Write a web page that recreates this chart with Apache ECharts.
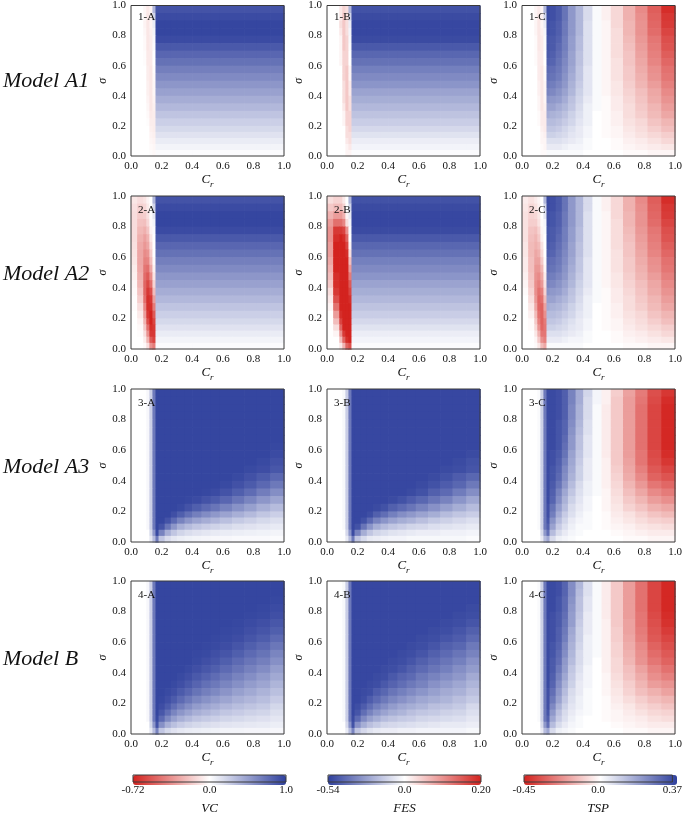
<!DOCTYPE html>
<html><head><meta charset="utf-8">
<script src="https://cdn.jsdelivr.net/npm/echarts@6/dist/echarts.min.js"></script>
<style>html,body{margin:0;padding:0;background:#fff}#chart{width:685px;height:816px}</style>
</head><body><div id="chart"></div>
<script>
// ---- grid of the heat maps (cell edges along C_r and sigma) ----
const crEdges = [0, 0.04, 0.08, 0.10, 0.12, 0.14, 0.16, 0.18, 0.22, 0.26, 0.30, 0.35, 0.40, 0.46, 0.52, 0.58, 0.66, 0.74, 0.82, 0.91, 1.0];
const sigmaEdges = [0, 0.04, 0.08, 0.12, 0.16, 0.20, 0.25, 0.30, 0.35, 0.40, 0.45, 0.50, 0.55, 0.60, 0.65, 0.70, 0.75, 0.80, 0.85, 0.90, 0.95, 1.0];
const axisTicks = [0, 0.2, 0.4, 0.6, 0.8, 1.0];
const rowLabels = ['Model A1', 'Model A2', 'Model A3', 'Model B'];
const colLetters = ['A', 'B', 'C'];
const measureNames = ['VC', 'FES', 'TSP'];
const measureMin = [-0.72, -0.54, -0.45];
const measureMax = [1.0, 0.20, 0.37];
const colorbarTicks = [['-0.72', '0.0', '1.0'], ['-0.54', '0.0', '0.20'], ['-0.45', '0.0', '0.37']];

// ---- values (in hundredths), rows from sigma = 1 (top) down to sigma = 0, columns along crEdges ----
const vcA1 = [
[0,0,-3,-7,-4,38,90,90,90,90,90,90,90,90,90,90,90,90,90,90],
[0,0,-3,-8,-5,22,94,94,94,94,94,94,94,94,94,94,94,94,94,94],
[0,0,-4,-8,-4,10,97,97,97,97,97,97,97,97,97,97,97,97,97,97],
[0,0,-3,-8,-5,6,97,97,97,97,97,97,97,97,97,97,97,97,97,97],
[0,0,-2,-8,-6,3,94,94,94,94,94,94,94,94,94,94,94,94,94,94],
[0,0,-2,-8,-6,2,87,87,87,87,87,87,87,87,87,87,87,87,87,87],
[0,0,-1,-7,-7,0,80,80,80,80,80,80,80,80,80,80,80,80,80,80],
[0,0,-1,-7,-7,0,74,74,74,74,74,74,74,74,74,74,74,74,74,74],
[0,0,0,-6,-8,-1,67,67,67,67,67,67,67,67,67,67,67,67,67,67],
[0,0,0,-6,-8,-2,61,61,61,61,61,61,61,61,61,61,61,61,61,61],
[0,0,0,-5,-8,-3,55,55,55,55,55,55,55,55,55,55,55,55,55,55],
[0,0,0,-5,-8,-3,49,49,49,49,49,49,49,49,49,49,49,49,49,49],
[0,0,0,-4,-8,-4,43,43,43,43,43,43,43,43,43,43,43,43,43,43],
[0,0,0,-3,-8,-5,37,37,37,37,37,37,37,37,37,37,37,37,37,37],
[0,0,0,-2,-7,-6,31,31,31,31,31,31,31,31,31,31,31,31,31,31],
[0,0,0,-1,-6,-6,25,25,25,25,25,25,25,25,25,25,25,25,25,25],
[0,0,0,0,-5,-6,20,20,20,20,20,20,20,20,20,20,20,20,20,20],
[0,0,0,0,-4,-5,15,15,15,15,15,15,15,15,15,15,15,15,15,15],
[0,0,0,0,-3,-4,10,10,10,10,10,10,10,10,10,10,10,10,10,10],
[0,0,0,0,-2,-3,6,6,6,6,6,6,6,6,6,6,6,6,6,6],
[0,0,0,0,-1,-2,2,2,2,2,2,2,2,2,2,2,2,2,2,2]
];
const fesA1 = [
[0,0,2,4,3,-21,-49,-49,-49,-49,-49,-49,-49,-49,-49,-49,-49,-49,-49,-49],
[0,0,2,5,3,-12,-51,-51,-51,-51,-51,-51,-51,-51,-51,-51,-51,-51,-51,-51],
[0,0,3,5,3,-5,-52,-52,-52,-52,-52,-52,-52,-52,-52,-52,-52,-52,-52,-52],
[0,0,2,5,3,-3,-52,-52,-52,-52,-52,-52,-52,-52,-52,-52,-52,-52,-52,-52],
[0,0,1,5,4,-2,-51,-51,-51,-51,-51,-51,-51,-51,-51,-51,-51,-51,-51,-51],
[0,0,1,5,4,-1,-47,-47,-47,-47,-47,-47,-47,-47,-47,-47,-47,-47,-47,-47],
[0,0,1,4,4,0,-43,-43,-43,-43,-43,-43,-43,-43,-43,-43,-43,-43,-43,-43],
[0,0,1,4,4,0,-40,-40,-40,-40,-40,-40,-40,-40,-40,-40,-40,-40,-40,-40],
[0,0,0,4,5,1,-36,-36,-36,-36,-36,-36,-36,-36,-36,-36,-36,-36,-36,-36],
[0,0,0,4,5,1,-33,-33,-33,-33,-33,-33,-33,-33,-33,-33,-33,-33,-33,-33],
[0,0,0,3,5,2,-30,-30,-30,-30,-30,-30,-30,-30,-30,-30,-30,-30,-30,-30],
[0,0,0,3,5,2,-26,-26,-26,-26,-26,-26,-26,-26,-26,-26,-26,-26,-26,-26],
[0,0,0,3,5,3,-23,-23,-23,-23,-23,-23,-23,-23,-23,-23,-23,-23,-23,-23],
[0,0,0,2,5,3,-20,-20,-20,-20,-20,-20,-20,-20,-20,-20,-20,-20,-20,-20],
[0,0,0,1,4,4,-17,-17,-17,-17,-17,-17,-17,-17,-17,-17,-17,-17,-17,-17],
[0,0,0,1,4,4,-14,-14,-14,-14,-14,-14,-14,-14,-14,-14,-14,-14,-14,-14],
[0,0,0,0,3,4,-11,-11,-11,-11,-11,-11,-11,-11,-11,-11,-11,-11,-11,-11],
[0,0,0,0,3,3,-8,-8,-8,-8,-8,-8,-8,-8,-8,-8,-8,-8,-8,-8],
[0,0,0,0,2,3,-5,-5,-5,-5,-5,-5,-5,-5,-5,-5,-5,-5,-5,-5],
[0,0,0,0,1,2,-3,-3,-3,-3,-3,-3,-3,-3,-3,-3,-3,-3,-3,-3],
[0,0,0,0,1,1,-1,-1,-1,-1,-1,-1,-1,-1,-1,-1,-1,-1,-1,-1]
];
const tspA1 = [
[0,0,-2,-4,-2,14,35,34,32,27,20,14,7,1,-3,-8,-16,-24,-33,-43],
[0,0,-2,-5,-3,8,35,34,32,27,20,14,7,1,-3,-8,-16,-23,-32,-41],
[0,0,-2,-5,-2,4,34,33,31,26,20,14,6,1,-2,-8,-15,-22,-31,-40],
[0,0,-2,-5,-3,2,34,33,31,26,20,14,6,1,-2,-7,-15,-22,-30,-38],
[0,0,-1,-5,-4,1,33,32,30,25,19,13,6,1,-2,-7,-14,-21,-28,-36],
[0,0,-1,-5,-4,1,33,32,29,25,19,13,6,1,-2,-7,-13,-20,-27,-35],
[0,0,-1,-4,-4,0,32,31,28,24,18,12,6,1,-2,-7,-12,-19,-26,-33],
[0,0,-1,-4,-4,0,31,30,27,23,18,12,6,1,-2,-6,-12,-18,-25,-31],
[0,0,0,-4,-5,-1,29,28,26,22,17,11,5,1,-2,-6,-11,-17,-23,-29],
[0,0,0,-4,-5,-1,28,27,25,21,16,11,5,1,-2,-6,-11,-16,-22,-28],
[0,0,0,-3,-5,-2,26,25,23,20,15,10,5,1,-2,-5,-10,-15,-20,-26],
[0,0,0,-3,-5,-2,24,23,21,18,14,9,5,1,-2,-5,-9,-13,-18,-24],
[0,0,0,-2,-5,-2,21,20,19,16,12,8,4,1,-1,-4,-8,-12,-17,-22],
[0,0,0,-2,-5,-3,18,18,16,14,11,7,3,1,-1,-4,-7,-11,-15,-20],
[0,0,0,-1,-4,-4,16,15,14,12,9,6,3,0,-1,-3,-7,-10,-14,-18],
[0,0,0,-1,-4,-4,13,13,12,10,8,5,3,0,-1,-3,-6,-8,-12,-15],
[0,0,0,0,-3,-4,11,11,10,8,6,4,2,0,-1,-2,-5,-7,-10,-13],
[0,0,0,0,-2,-3,9,9,8,7,5,4,2,0,-1,-2,-4,-6,-8,-10],
[0,0,0,0,-2,-2,6,6,6,5,4,3,1,0,0,-1,-3,-4,-6,-8],
[0,0,0,0,-1,-2,4,4,4,3,2,2,1,0,0,-1,-2,-3,-4,-5],
[0,0,0,0,-1,-1,1,1,1,1,1,1,0,0,0,0,-1,-1,-2,-2]
];
const vcA2 = [
[-8,-11,-9,-4,0,38,90,90,90,90,90,90,90,90,90,90,90,90,90,90],
[-10,-15,-13,-7,0,22,94,94,94,94,94,94,94,94,94,94,94,94,94,94],
[-11,-17,-16,-10,-1,12,97,97,97,97,97,97,97,97,97,97,97,97,97,97],
[-11,-20,-21,-13,-2,6,97,97,97,97,97,97,97,97,97,97,97,97,97,97],
[-11,-23,-26,-19,-4,2,94,94,94,94,94,94,94,94,94,94,94,94,94,94],
[-11,-26,-31,-25,-8,0,87,87,87,87,87,87,87,87,87,87,87,87,87,87],
[-10,-28,-34,-29,-12,0,80,80,80,80,80,80,80,80,80,80,80,80,80,80],
[-9,-29,-38,-35,-17,0,74,74,74,74,74,74,74,74,74,74,74,74,74,74],
[-8,-29,-41,-40,-22,-2,67,67,67,67,67,67,67,67,67,67,67,67,67,67],
[-6,-28,-45,-47,-29,-5,61,61,61,61,61,61,61,61,61,61,61,61,61,61],
[-5,-26,-48,-54,-38,-9,55,55,55,55,55,55,55,55,55,55,55,55,55,55],
[-3,-24,-50,-60,-47,-14,49,49,49,49,49,49,49,49,49,49,49,49,49,49],
[-2,-20,-50,-65,-58,-22,43,43,43,43,43,43,43,43,43,43,43,43,43,43],
[-1,-16,-47,-68,-65,-32,37,37,37,37,37,37,37,37,37,37,37,37,37,37],
[-1,-11,-40,-68,-68,-43,31,31,31,31,31,31,31,31,31,31,31,31,31,31],
[0,-7,-32,-65,-72,-54,25,25,25,25,25,25,25,25,25,25,25,25,25,25],
[0,-4,-25,-58,-72,-61,20,20,20,20,20,20,20,20,20,20,20,20,20,20],
[0,-2,-18,-47,-68,-65,15,15,15,15,15,15,15,15,15,15,15,15,15,15],
[0,-1,-11,-36,-65,-65,10,10,10,10,10,10,10,10,10,10,10,10,10,10],
[0,0,-6,-25,-54,-61,6,6,6,6,6,6,6,6,6,6,6,6,6,6],
[0,0,-2,-11,-36,-43,2,2,2,2,2,2,2,2,2,2,2,2,2,2]
];
const fesA2 = [
[3,4,4,2,0,-21,-49,-49,-49,-49,-49,-49,-49,-49,-49,-49,-49,-49,-49,-49],
[5,6,6,4,0,-12,-51,-51,-51,-51,-51,-51,-51,-51,-51,-51,-51,-51,-51,-51],
[7,9,9,7,1,-6,-52,-52,-52,-52,-52,-52,-52,-52,-52,-52,-52,-52,-52,-52],
[9,13,13,11,3,-3,-52,-52,-52,-52,-52,-52,-52,-52,-52,-52,-52,-52,-52,-52],
[10,18,18,17,10,-1,-51,-51,-51,-51,-51,-51,-51,-51,-51,-51,-51,-51,-51,-51],
[10,19,20,19,14,0,-47,-47,-47,-47,-47,-47,-47,-47,-47,-47,-47,-47,-47,-47],
[9,20,20,20,17,1,-43,-43,-43,-43,-43,-43,-43,-43,-43,-43,-43,-43,-43,-43],
[9,20,20,20,19,3,-40,-40,-40,-40,-40,-40,-40,-40,-40,-40,-40,-40,-40,-40],
[8,20,20,20,20,6,-36,-36,-36,-36,-36,-36,-36,-36,-36,-36,-36,-36,-36,-36],
[7,20,20,20,20,9,-33,-33,-33,-33,-33,-33,-33,-33,-33,-33,-33,-33,-33,-33],
[6,19,20,20,20,12,-30,-30,-30,-30,-30,-30,-30,-30,-30,-30,-30,-30,-30,-30],
[5,19,20,20,20,15,-26,-26,-26,-26,-26,-26,-26,-26,-26,-26,-26,-26,-26,-26],
[3,18,20,20,20,17,-23,-23,-23,-23,-23,-23,-23,-23,-23,-23,-23,-23,-23,-23],
[2,16,20,20,20,19,-20,-20,-20,-20,-20,-20,-20,-20,-20,-20,-20,-20,-20,-20],
[1,13,20,20,20,20,-17,-17,-17,-17,-17,-17,-17,-17,-17,-17,-17,-17,-17,-17],
[0,9,19,20,20,20,-14,-14,-14,-14,-14,-14,-14,-14,-14,-14,-14,-14,-14,-14],
[0,6,17,20,20,20,-11,-11,-11,-11,-11,-11,-11,-11,-11,-11,-11,-11,-11,-11],
[0,3,14,20,20,20,-8,-8,-8,-8,-8,-8,-8,-8,-8,-8,-8,-8,-8,-8],
[0,1,10,18,20,20,-5,-5,-5,-5,-5,-5,-5,-5,-5,-5,-5,-5,-5,-5],
[0,0,6,14,19,20,-3,-3,-3,-3,-3,-3,-3,-3,-3,-3,-3,-3,-3,-3],
[0,0,2,7,14,16,-1,-1,-1,-1,-1,-1,-1,-1,-1,-1,-1,-1,-1,-1]
];
const tspA2 = [
[-4,-6,-4,-2,0,14,35,34,32,27,20,14,7,1,-3,-8,-16,-24,-33,-43],
[-5,-8,-6,-3,0,8,35,34,32,27,20,14,7,1,-3,-8,-16,-23,-32,-41],
[-6,-9,-8,-5,0,5,34,33,31,26,20,14,6,1,-2,-8,-15,-22,-31,-40],
[-6,-10,-10,-6,-1,2,34,33,31,26,20,14,6,1,-2,-7,-15,-22,-30,-38],
[-6,-12,-13,-9,-2,1,33,32,30,25,19,13,6,1,-2,-7,-14,-21,-28,-36],
[-6,-13,-15,-11,-3,0,33,32,29,25,19,13,6,1,-2,-7,-13,-20,-27,-35],
[-5,-14,-16,-14,-6,0,32,31,28,24,18,12,6,1,-2,-7,-12,-19,-26,-33],
[-5,-14,-18,-16,-8,0,31,30,27,23,18,12,6,1,-2,-6,-12,-18,-25,-31],
[-4,-13,-19,-19,-11,-1,29,28,26,22,17,11,5,1,-2,-6,-11,-17,-23,-29],
[-4,-13,-21,-21,-15,-2,28,27,25,21,16,11,5,1,-2,-6,-11,-16,-22,-28],
[-3,-12,-22,-24,-18,-4,26,25,23,20,15,10,5,1,-2,-5,-10,-15,-20,-26],
[-2,-11,-23,-26,-21,-6,24,23,21,18,14,9,5,1,-2,-5,-9,-13,-18,-24],
[-1,-9,-23,-29,-26,-9,21,20,19,16,12,8,4,1,-1,-4,-8,-12,-17,-22],
[0,-7,-21,-31,-29,-14,18,18,16,14,11,7,3,1,-1,-4,-7,-11,-15,-20],
[0,-5,-18,-31,-32,-19,16,15,14,12,9,6,3,0,-1,-3,-7,-10,-14,-18],
[0,-3,-14,-29,-32,-23,13,13,12,10,8,5,3,0,-1,-3,-6,-8,-12,-15],
[0,-1,-11,-26,-32,-27,11,11,10,8,6,4,2,0,-1,-2,-5,-7,-10,-13],
[0,-1,-8,-22,-31,-28,9,9,8,7,5,4,2,0,-1,-2,-4,-6,-8,-10],
[0,0,-5,-16,-28,-28,6,6,6,5,4,3,1,0,0,-1,-3,-4,-6,-8],
[0,0,-2,-11,-23,-26,4,4,4,3,2,2,1,0,0,-1,-2,-3,-4,-5],
[0,0,-1,-5,-14,-18,1,1,1,1,1,1,0,0,0,0,-1,-1,-2,-2]
];
const vcA3 = [
[0,0,0,4,25,70,97,97,97,97,97,97,97,97,97,97,97,97,97,97],
[0,0,0,4,25,70,97,97,97,97,97,97,97,97,97,97,97,97,97,97],
[0,0,0,4,25,70,97,97,97,97,97,97,97,97,97,97,97,97,97,97],
[0,0,0,4,25,70,97,97,97,97,97,97,97,97,97,97,97,97,97,97],
[0,0,0,4,25,70,97,97,97,97,97,97,97,97,97,97,97,97,97,97],
[0,0,0,4,25,70,97,97,97,97,97,97,97,97,97,97,97,97,97,97],
[0,0,0,4,25,70,97,97,97,97,97,97,97,97,97,97,97,97,97,97],
[0,0,0,4,25,70,97,97,97,97,97,97,97,97,97,97,97,97,97,96],
[0,0,0,4,25,70,97,97,97,97,97,97,97,97,97,97,97,97,97,94],
[0,0,0,4,25,70,97,97,97,97,97,97,97,97,97,97,97,97,95,91],
[0,0,0,4,25,70,97,97,97,97,97,97,97,97,97,97,97,95,93,88],
[0,0,0,4,25,70,97,97,97,97,97,97,97,97,97,97,95,91,86,79],
[0,0,0,4,25,70,97,97,97,97,97,97,97,97,97,95,91,86,79,70],
[0,0,0,4,25,70,97,97,97,97,97,97,97,96,94,90,84,77,68,59],
[0,0,0,4,25,70,97,97,97,97,97,96,94,90,86,80,72,64,55,47],
[0,0,0,4,25,70,97,97,97,97,95,90,84,78,72,65,57,50,42,35],
[0,0,0,4,25,70,97,97,97,92,84,75,67,60,54,48,42,36,30,25],
[0,0,0,4,25,70,97,97,90,78,65,55,48,43,38,33,28,24,20,17],
[0,0,0,4,25,70,97,90,72,55,42,35,30,26,23,20,17,15,13,11],
[0,0,0,0,20,55,95,65,42,30,22,18,15,13,11,10,9,8,7,6],
[0,0,0,0,12,35,70,30,18,12,9,7,6,5,4,4,3,3,3,2]
];
const fesA3 = [
[0,0,0,-2,-14,-38,-52,-52,-52,-52,-52,-52,-52,-52,-52,-52,-52,-52,-52,-52],
[0,0,0,-2,-14,-38,-52,-52,-52,-52,-52,-52,-52,-52,-52,-52,-52,-52,-52,-52],
[0,0,0,-2,-14,-38,-52,-52,-52,-52,-52,-52,-52,-52,-52,-52,-52,-52,-52,-52],
[0,0,0,-2,-14,-38,-52,-52,-52,-52,-52,-52,-52,-52,-52,-52,-52,-52,-52,-52],
[0,0,0,-2,-14,-38,-52,-52,-52,-52,-52,-52,-52,-52,-52,-52,-52,-52,-52,-52],
[0,0,0,-2,-14,-38,-52,-52,-52,-52,-52,-52,-52,-52,-52,-52,-52,-52,-52,-52],
[0,0,0,-2,-14,-38,-52,-52,-52,-52,-52,-52,-52,-52,-52,-52,-52,-52,-52,-52],
[0,0,0,-2,-14,-38,-52,-52,-52,-52,-52,-52,-52,-52,-52,-52,-52,-52,-52,-52],
[0,0,0,-2,-14,-38,-52,-52,-52,-52,-52,-52,-52,-52,-52,-52,-52,-52,-52,-51],
[0,0,0,-2,-14,-38,-52,-52,-52,-52,-52,-52,-52,-52,-52,-52,-52,-52,-51,-49],
[0,0,0,-2,-14,-38,-52,-52,-52,-52,-52,-52,-52,-52,-52,-52,-52,-51,-50,-48],
[0,0,0,-2,-14,-38,-52,-52,-52,-52,-52,-52,-52,-52,-52,-52,-51,-49,-46,-43],
[0,0,0,-2,-14,-38,-52,-52,-52,-52,-52,-52,-52,-52,-52,-51,-49,-46,-43,-38],
[0,0,0,-2,-14,-38,-52,-52,-52,-52,-52,-52,-52,-52,-51,-49,-45,-42,-37,-32],
[0,0,0,-2,-14,-38,-52,-52,-52,-52,-52,-52,-51,-49,-46,-43,-39,-35,-30,-25],
[0,0,0,-2,-14,-38,-52,-52,-52,-52,-51,-49,-45,-42,-39,-35,-31,-27,-23,-19],
[0,0,0,-2,-14,-38,-52,-52,-52,-50,-45,-41,-36,-32,-29,-26,-23,-19,-16,-14],
[0,0,0,-2,-14,-38,-52,-52,-49,-42,-35,-30,-26,-23,-21,-18,-15,-13,-11,-9],
[0,0,0,-2,-14,-38,-52,-49,-39,-30,-23,-19,-16,-14,-12,-11,-9,-8,-7,-6],
[0,0,0,0,-11,-30,-51,-35,-23,-16,-12,-10,-8,-7,-6,-5,-5,-4,-4,-3],
[0,0,0,0,-6,-19,-38,-16,-10,-6,-5,-4,-3,-3,-2,-2,-2,-2,-2,-1]
];
const tspA3 = [
[0,0,0,1,9,26,35,35,34,31,24,16,8,2,-3,-10,-19,-27,-36,-41],
[0,0,0,1,9,26,35,35,34,31,24,16,7,2,-3,-11,-20,-28,-37,-43],
[0,0,0,1,9,26,35,35,34,31,23,15,7,1,-4,-11,-20,-29,-38,-44],
[0,0,0,1,9,26,35,35,34,31,23,15,7,1,-4,-11,-20,-29,-38,-44],
[0,0,0,1,9,26,35,35,33,30,22,14,6,1,-4,-11,-20,-29,-38,-44],
[0,0,0,1,9,26,35,35,33,30,21,13,6,1,-4,-11,-20,-29,-38,-44],
[0,0,0,1,9,26,35,35,33,29,20,12,5,1,-4,-11,-20,-29,-38,-44],
[0,0,0,1,9,26,35,35,33,28,20,12,5,1,-4,-11,-20,-29,-38,-44],
[0,0,0,1,9,26,35,34,32,27,18,11,5,1,-4,-11,-20,-28,-37,-43],
[0,0,0,1,9,26,35,34,31,25,17,10,4,1,-3,-11,-19,-28,-36,-41],
[0,0,0,1,9,26,35,33,30,23,16,9,4,1,-3,-10,-18,-26,-34,-38],
[0,0,0,1,9,26,35,33,29,22,15,9,4,1,-3,-9,-17,-24,-32,-35],
[0,0,0,1,9,26,35,32,27,20,13,7,3,1,-3,-8,-15,-21,-28,-31],
[0,0,0,1,9,26,35,31,24,17,11,6,3,1,-2,-7,-13,-18,-24,-27],
[0,0,0,1,9,26,35,30,22,15,9,5,2,0,-2,-6,-11,-15,-20,-23],
[0,0,0,1,9,26,34,27,19,13,7,4,2,0,-2,-5,-9,-12,-16,-18],
[0,0,0,1,9,26,34,25,16,10,6,3,1,0,-1,-4,-6,-9,-12,-14],
[0,0,0,1,9,26,33,21,13,8,4,2,1,0,-1,-3,-5,-7,-9,-10],
[0,0,0,1,9,26,31,18,10,6,3,1,1,0,-1,-2,-3,-5,-6,-7],
[0,0,0,0,7,20,28,13,7,4,2,1,0,0,0,-1,-2,-3,-4,-4],
[0,0,0,0,4,13,17,7,3,2,1,0,0,0,0,0,-1,-1,-2,-2]
];
const vcB = [
[0,0,0,4,25,70,97,97,97,97,97,97,97,97,97,97,97,97,97,97],
[0,0,0,4,25,70,97,97,97,97,97,97,97,97,97,97,97,97,97,97],
[0,0,0,4,25,70,97,97,97,97,97,97,97,97,97,97,97,97,97,96],
[0,0,0,4,25,70,97,97,97,97,97,97,97,97,97,97,97,97,96,94],
[0,0,0,4,25,70,97,97,97,97,97,97,97,97,97,97,97,96,95,92],
[0,0,0,4,25,70,97,97,97,97,97,97,97,97,97,97,96,94,92,88],
[0,0,0,4,25,70,97,97,97,97,97,97,97,97,97,96,95,92,89,84],
[0,0,0,4,25,70,97,97,97,97,97,97,97,97,96,95,93,89,85,78],
[0,0,0,4,25,70,97,97,97,97,97,97,97,96,95,93,89,84,79,71],
[0,0,0,4,25,70,97,97,97,97,97,97,96,95,92,89,84,78,73,64],
[0,0,0,4,25,70,97,97,97,97,97,97,95,92,89,84,78,72,67,58],
[0,0,0,4,25,70,97,97,97,97,97,95,92,88,84,78,72,66,60,51],
[0,0,0,4,25,70,97,97,97,97,95,92,87,82,77,71,65,59,53,45],
[0,0,0,4,25,70,97,97,97,95,92,87,81,75,70,64,58,52,47,39],
[0,0,0,4,25,70,97,97,95,92,86,80,73,67,62,56,50,45,40,33],
[0,0,0,4,25,70,97,96,92,86,78,70,63,57,52,47,42,38,34,27],
[0,0,0,4,25,70,97,93,86,76,67,59,52,47,43,38,34,31,28,21],
[0,0,0,4,25,70,97,88,76,64,55,48,42,38,34,30,27,24,22,17],
[0,0,0,4,25,70,95,78,62,50,42,36,31,28,25,22,20,18,16,13],
[0,0,0,0,20,55,90,58,42,33,27,23,20,18,16,14,13,12,11,9],
[0,0,0,0,12,35,65,30,20,15,12,10,9,8,7,6,6,5,5,4]
];
const fesB = [
[0,0,0,-2,-14,-38,-52,-52,-52,-52,-52,-52,-52,-52,-52,-52,-52,-52,-52,-52],
[0,0,0,-2,-14,-38,-52,-52,-52,-52,-52,-52,-52,-52,-52,-52,-52,-52,-52,-52],
[0,0,0,-2,-14,-38,-52,-52,-52,-52,-52,-52,-52,-52,-52,-52,-52,-52,-52,-52],
[0,0,0,-2,-14,-38,-52,-52,-52,-52,-52,-52,-52,-52,-52,-52,-52,-52,-52,-51],
[0,0,0,-2,-14,-38,-52,-52,-52,-52,-52,-52,-52,-52,-52,-52,-52,-52,-51,-50],
[0,0,0,-2,-14,-38,-52,-52,-52,-52,-52,-52,-52,-52,-52,-52,-52,-51,-50,-48],
[0,0,0,-2,-14,-38,-52,-52,-52,-52,-52,-52,-52,-52,-52,-52,-51,-50,-48,-45],
[0,0,0,-2,-14,-38,-52,-52,-52,-52,-52,-52,-52,-52,-52,-51,-50,-48,-46,-42],
[0,0,0,-2,-14,-38,-52,-52,-52,-52,-52,-52,-52,-52,-51,-50,-48,-45,-43,-38],
[0,0,0,-2,-14,-38,-52,-52,-52,-52,-52,-52,-52,-51,-50,-48,-45,-42,-39,-35],
[0,0,0,-2,-14,-38,-52,-52,-52,-52,-52,-52,-51,-50,-48,-45,-42,-39,-36,-31],
[0,0,0,-2,-14,-38,-52,-52,-52,-52,-52,-51,-50,-48,-45,-42,-39,-36,-32,-28],
[0,0,0,-2,-14,-38,-52,-52,-52,-52,-51,-50,-47,-44,-42,-38,-35,-32,-29,-24],
[0,0,0,-2,-14,-38,-52,-52,-52,-51,-50,-47,-44,-41,-38,-35,-31,-28,-25,-21],
[0,0,0,-2,-14,-38,-52,-52,-51,-50,-46,-43,-39,-36,-33,-30,-27,-24,-22,-18],
[0,0,0,-2,-14,-38,-52,-52,-50,-46,-42,-38,-34,-31,-28,-25,-23,-21,-18,-15],
[0,0,0,-2,-14,-38,-52,-50,-46,-41,-36,-32,-28,-25,-23,-21,-18,-17,-15,-11],
[0,0,0,-2,-14,-38,-52,-48,-41,-35,-30,-26,-23,-21,-18,-16,-15,-13,-12,-9],
[0,0,0,-2,-14,-38,-51,-42,-33,-27,-23,-19,-17,-15,-14,-12,-11,-10,-9,-7],
[0,0,0,0,-11,-30,-49,-31,-23,-18,-15,-12,-11,-10,-9,-8,-7,-6,-6,-5],
[0,0,0,0,-6,-19,-35,-16,-11,-8,-6,-5,-5,-4,-4,-3,-3,-3,-3,-2]
];
const tspB = [
[0,0,0,1,9,26,35,35,34,30,22,14,6,1,-4,-11,-20,-29,-38,-44],
[0,0,0,1,9,26,35,35,34,30,22,13,6,1,-4,-11,-20,-29,-38,-44],
[0,0,0,1,9,26,35,35,33,29,21,12,5,1,-4,-11,-20,-29,-38,-44],
[0,0,0,1,9,26,35,35,33,29,20,12,5,1,-4,-11,-20,-29,-38,-44],
[0,0,0,1,9,26,35,34,32,28,19,11,4,1,-4,-11,-20,-28,-37,-43],
[0,0,0,1,9,26,35,34,32,27,19,10,4,1,-3,-11,-19,-28,-36,-42],
[0,0,0,1,9,26,35,34,31,26,17,9,4,1,-3,-10,-19,-27,-35,-40],
[0,0,0,1,9,26,35,34,31,25,16,9,3,1,-3,-10,-18,-26,-34,-38],
[0,0,0,1,9,26,35,33,30,23,15,8,3,1,-3,-9,-17,-24,-32,-36],
[0,0,0,1,9,26,35,33,29,22,14,7,3,1,-3,-9,-16,-23,-30,-34],
[0,0,0,1,9,26,35,32,28,20,13,7,3,0,-3,-8,-15,-22,-28,-32],
[0,0,0,1,9,26,35,32,26,19,11,6,2,0,-3,-8,-13,-19,-25,-29],
[0,0,0,1,9,26,35,31,24,17,10,5,2,0,-2,-7,-12,-17,-23,-26],
[0,0,0,1,9,26,35,30,22,15,9,4,2,0,-2,-6,-10,-15,-20,-22],
[0,0,0,1,9,26,34,28,20,13,7,4,1,0,-2,-5,-9,-13,-16,-19],
[0,0,0,1,9,26,34,26,18,11,6,3,1,0,-1,-4,-7,-10,-13,-15],
[0,0,0,1,9,26,34,23,15,9,5,3,1,0,-1,-3,-5,-8,-10,-12],
[0,0,0,1,9,26,33,20,12,7,4,2,1,0,-1,-2,-4,-6,-8,-9],
[0,0,0,1,9,26,31,17,10,6,3,1,0,0,-1,-2,-3,-4,-6,-7],
[0,0,0,0,7,20,28,13,7,4,2,1,0,0,0,-1,-2,-3,-4,-4],
[0,0,0,0,4,13,17,7,3,2,1,0,0,0,0,0,-1,-1,-2,-2]
];

const panels = [
  [vcA1, fesA1, tspA1],
  [vcA2, fesA2, tspA2],
  [vcA3, fesA3, tspA3],
  [vcB, fesB, tspB]
];

// ---- layout & style ----
const colLeft = [131, 327, 522];
const rowTop = [3, 196, 389, 581];
const plotSize = 153;
const cbLeft = [133, 328, 524];
const cbTop = 775;
const cbThick = 10;
const FONT = '"Liberation Serif", "Times New Roman", serif';
const TXT = '#111';
const RED = '#d3231f', WHITE = '#ffffff', BLUE = '#2f409d';

function normalize(v, m) {
  const x = v / 100;
  return x < 0 ? x / (-measureMin[m]) : x / measureMax[m];
}

function renderCell(params, api) {
  const i = api.value(3), j = api.value(4);
  const p0 = api.coord([crEdges[i], sigmaEdges[j]]);
  const p1 = api.coord([crEdges[i + 1], sigmaEdges[j + 1]]);
  return {
    type: 'rect',
    shape: { x: p0[0], y: p1[1], width: p1[0] - p0[0] + 0.7, height: p0[1] - p1[1] + 0.7 },
    style: { fill: api.visual('color') }
  };
}

const grids = [], xAxes = [], yAxes = [], series = [], graphics = [];
const seriesByMeasure = [[], [], []];

panels.forEach((row, r) => {
  graphics.push({
    type: 'text', z: 20,
    style: { text: rowLabels[r], x: 3, y: rowTop[r] + 78, fill: TXT,
      fontFamily: FONT, fontStyle: 'italic', fontSize: 22, align: 'left', verticalAlign: 'middle' }
  });
  row.forEach((vals, c) => {
    const gi = grids.length;
    grids.push({ left: colLeft[c], top: rowTop[r], width: plotSize, height: plotSize,
      show: true, borderColor: '#3a3a3a', borderWidth: 1, backgroundColor: 'transparent', z: 5 });
    xAxes.push({
      gridIndex: gi, type: 'value', min: axisTicks[0], max: axisTicks[axisTicks.length - 1],
      interval: axisTicks[1] - axisTicks[0],
      axisLine: { show: false }, axisTick: { show: false }, splitLine: { show: false },
      axisLabel: { formatter: v => v.toFixed(1), fontFamily: FONT, fontSize: 11, color: TXT, margin: 5 },
      name: '{c|C}{s|r}', nameLocation: 'middle', nameGap: 17,
      nameTextStyle: { rich: {
        c: { fontFamily: FONT, fontStyle: 'italic', fontSize: 13, lineHeight: 16, verticalAlign: 'top', color: TXT },
        s: { fontFamily: FONT, fontStyle: 'italic', fontSize: 9, lineHeight: 9, verticalAlign: 'bottom', color: TXT }
      } }
    });
    yAxes.push({
      gridIndex: gi, type: 'value', min: axisTicks[0], max: axisTicks[axisTicks.length - 1],
      interval: axisTicks[1] - axisTicks[0],
      axisLine: { show: false }, axisTick: { show: false }, splitLine: { show: false },
      axisLabel: { formatter: v => v.toFixed(1), fontFamily: FONT, fontSize: 11, color: TXT, margin: 5 },
      name: 'σ', nameLocation: 'middle', nameGap: 21, nameRotate: 90,
      nameTextStyle: { fontFamily: FONT, fontStyle: 'italic', fontSize: 12, color: TXT }
    });
    const data = [];
    vals.forEach((rowVals, k) => {
      const j = sigmaEdges.length - 2 - k;
      rowVals.forEach((v, i) => {
        data.push([(crEdges[i] + crEdges[i + 1]) / 2, (sigmaEdges[j] + sigmaEdges[j + 1]) / 2, normalize(v, c), i, j]);
      });
    });
    seriesByMeasure[c].push(series.length);
    series.push({ type: 'custom', name: (r + 1) + '-' + colLetters[c], xAxisIndex: gi, yAxisIndex: gi,
      renderItem: renderCell, data: data, encode: { x: 0, y: 1 }, silent: true, z: 2 });
    graphics.push({
      type: 'text', z: 20,
      style: { text: (r + 1) + '-' + colLetters[c], x: colLeft[c] + 7, y: rowTop[r] + 14, fill: TXT,
        fontFamily: FONT, fontSize: 11, align: 'left', verticalAlign: 'middle' }
    });
  });
});

// colour bars: frame + tick labels via a small grid each
const visualMaps = [];
[0, 1, 2].forEach(c => {
  const gi = grids.length;
  grids.push({ left: cbLeft[c], top: cbTop, width: plotSize, height: cbThick,
    show: true, borderColor: '#3a3a3a', borderWidth: 1, backgroundColor: 'transparent', z: 10 });
  xAxes.push({
    gridIndex: gi, type: 'value', min: -1, max: 1, interval: 1,
    axisLine: { show: false }, axisTick: { show: false }, splitLine: { show: false },
    axisLabel: { formatter: v => colorbarTicks[c][Math.round(v) + 1], fontFamily: FONT, fontSize: 11, color: TXT, margin: 3 },
    name: measureNames[c], nameLocation: 'middle', nameGap: 20,
    nameTextStyle: { fontFamily: FONT, fontStyle: 'italic', fontSize: 13, color: TXT }
  });
  yAxes.push({ gridIndex: gi, type: 'value', show: false, min: 0, max: 1 });
  visualMaps.push({
    type: 'continuous', min: -1, max: 1, dimension: 2, seriesIndex: seriesByMeasure[c],
    calculable: false, hoverLink: false, orient: 'horizontal',
    left: cbLeft[c], top: cbTop, itemWidth: cbThick, itemHeight: plotSize, padding: 0,
    inRange: { color: c === 1 ? [BLUE, WHITE, RED] : [RED, WHITE, BLUE] }
  });
});

const chart = echarts.init(document.getElementById('chart'), null, { renderer: 'canvas' });
chart.setOption({
  backgroundColor: '#ffffff',
  animation: false,
  grid: grids,
  xAxis: xAxes,
  yAxis: yAxes,
  visualMap: visualMaps,
  series: series,
  graphic: graphics
});
</script></body></html>
